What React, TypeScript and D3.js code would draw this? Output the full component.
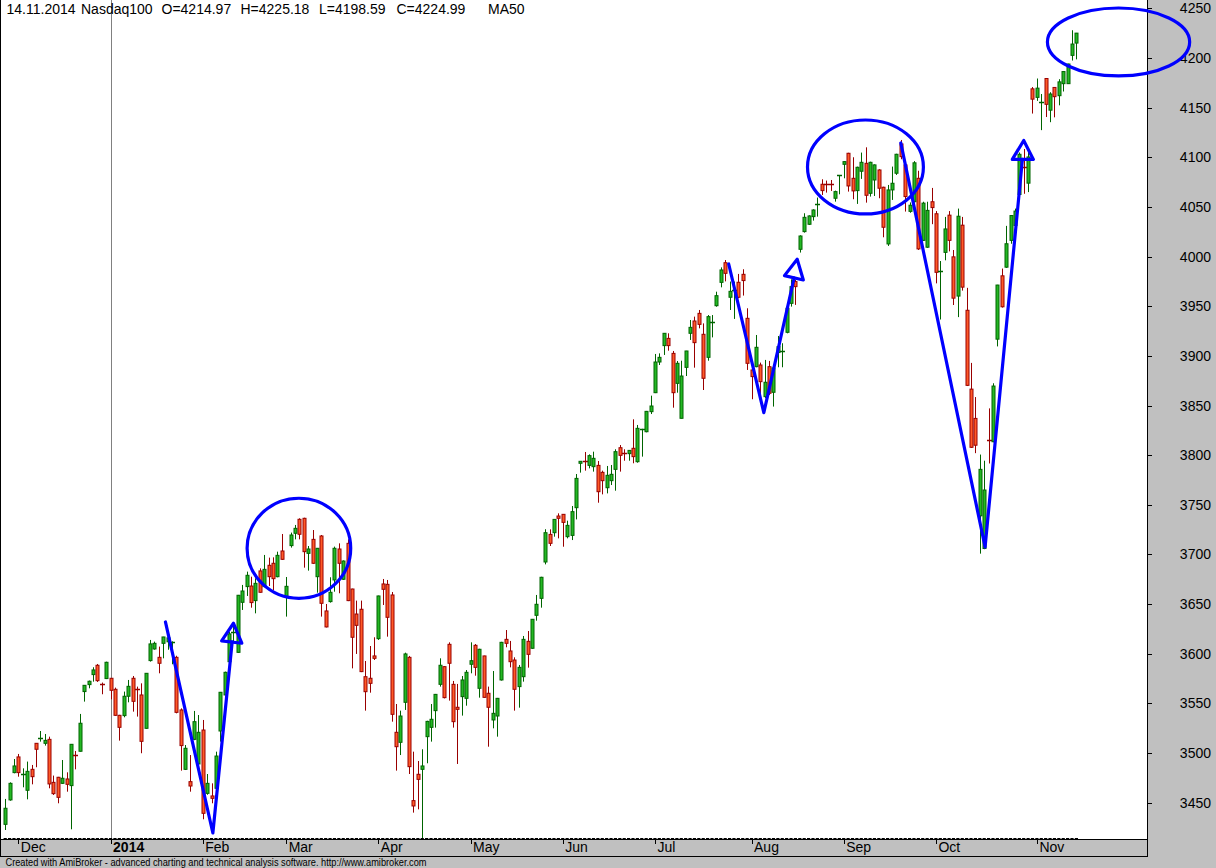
import React from 'react';
import * as d3 from 'd3';

// ---- Data (Nasdaq100 daily, 26 Nov 2013 .. 14 Nov 2014) ----
const OPEN = [
3428.2,3452.8,3480.3,3496.1,3478.3,3462.5,3483.6,3509.8,3514.5,3509.8,
3513.8,3470.5,3475.6,3469.5,3473.9,3467.2,3499.1,3501.8,3561.9,3568.9,
3579.0,3588.4,3570.6,3575.0,3575.3,3564.2,3538.0,3537.7,3557.2,3575.3,
3565.2,3558.5,3524.9,3593.1,3604.8,3596.4,3610.5,3612.0,3611.5,3596.4,
3543.4,3483.6,3471.2,3513.8,3489.0,3523.2,3459.4,3456.8,3464.5,3522.2,
3558.5,3592.0,3621.0,3601.4,3651.8,3667.6,3668.2,3653.5,3683.4,3667.6,
3689.1,3691.1,3677.6,3703.5,3656.8,3708.9,3721.3,3735.4,3736.4,3701.1,
3715.2,3677.6,3718.6,3643.1,3652.5,3674.3,3705.5,3675.0,3711.2,3665.2,
3640.0,3644.8,3576.9,3575.3,3597.8,3615.2,3670.3,3669.9,3659.2,3520.9,
3510.8,3551.1,3596.4,3452.1,3478.6,3483.6,3516.5,3525.9,3542.7,3569.2,
3587.0,3609.5,3569.2,3546.1,3556.8,3555.1,3589.4,3608.5,3565.2,3597.8,
3560.2,3533.3,3537.3,3573.6,3614.5,3602.8,3593.7,3566.9,3576.9,3612.5,
3605.5,3638.7,3655.8,3692.4,3720.2,3721.9,3738.7,3740.4,3717.9,3719.2,
3747.1,3791.8,3794.8,3789.7,3788.4,3789.7,3782.7,3767.2,3774.3,3785.7,
3807.5,3803.2,3801.5,3806.9,3793.4,3825.7,3823.6,3843.8,3862.9,3893.8,
3910.3,3917.6,3902.5,3872.3,3837.1,3888.4,3922.7,3935.1,3942.8,3921.7,
3898.5,3933.1,3950.5,3974.0,3993.8,3959.0,3966.0,3974.1,3982.1,3937.8,
3885.8,3889.1,3890.8,3858.9,3889.1,3863.3,3903.3,3903.9,3923.7,3952.9,
3974.8,4007.3,4025.1,4032.5,4040.2,4052.0,4072.8,4073.5,4073.5,4058.7,
4081.2,4092.9,4104.0,4078.8,4066.4,4085.9,4093.9,4063.7,4077.1,4087.2,
4069.8,4012.7,4067.1,4083.9,4113.4,4092.3,4045.5,4055.2,4078.8,4016.3,
4009.4,4055.2,4043.1,3984.4,4004.2,4041.7,3999.7,3960.2,4031.6,3945.9,
3866.5,3837.0,3738.9,3706.0,3815.5,3813.5,3916.8,3980.6,3989.3,4016.3,
4031.3,4062.5,4090.9,4073.9,4168.9,4160.3,4155.4,4179.3,4147.4,4170.3,
4162.0,4174.1,4174.1,4202.6,4214.97
];
const HIGH = [
3453.8,3470.5,3494.0,3499.1,3484.6,3491.4,3488.0,3510.0,3522.2,3519.2,
3516.5,3477.3,3476.0,3493.0,3480.6,3509.0,3502.1,3539.4,3568.5,3573.0,
3586.4,3589.7,3571.0,3592.0,3575.5,3565.9,3538.5,3561.9,3573.6,3577.6,
3566.9,3570.2,3580.5,3613.9,3612.2,3607.2,3617.0,3620.0,3612.5,3598.0,
3545.0,3508.1,3498.0,3542.4,3538.3,3533.3,3478.9,3469.5,3501.4,3561.5,
3582.0,3622.0,3630.0,3659.2,3669.3,3682.7,3677.6,3676.0,3686.0,3699.5,
3696.8,3697.1,3702.8,3720.6,3677.3,3722.0,3729.7,3736.4,3737.0,3708.5,
3724.6,3706.5,3719.6,3650.1,3677.0,3707.9,3711.2,3694.0,3715.2,3665.5,
3653.5,3653.5,3592.7,3607.8,3616.6,3658.5,3675.3,3674.3,3662.2,3549.4,
3542.7,3601.1,3597.8,3501.4,3492.0,3503.8,3532.5,3549.4,3559.5,3595.4,
3587.5,3611.5,3572.6,3569.6,3577.6,3583.6,3611.5,3609.8,3605.0,3598.0,
3566.9,3582.6,3555.5,3612.0,3623.9,3612.9,3596.4,3588.7,3617.9,3622.9,
3635.0,3659.2,3677.5,3725.4,3725.3,3735.5,3741.4,3740.5,3734.0,3748.8,
3781.0,3794.0,3803.2,3800.8,3803.5,3794.1,3784.4,3789.1,3790.1,3805.9,
3810.2,3805.9,3805.0,3836.1,3830.4,3826.5,3844.5,3859.9,3901.9,3902.5,
3923.0,3922.7,3904.9,3894.8,3895.1,3905.0,3936.1,3939.5,3946.2,3932.7,
3941.1,3941.1,3964.6,3989.1,3996.5,3974.8,3974.8,3982.5,3987.2,3947.9,
3892.5,3921.0,3893.2,3895.9,3894.9,3888.5,3920.0,3912.7,3949.6,3977.1,
3976.4,4021.4,4043.6,4041.5,4047.6,4059.4,4077.8,4076.5,4077.1,4066.4,
4082.0,4096.0,4104.5,4100.0,4090.5,4104.7,4110.0,4095.5,4092.8,4087.9,
4070.3,4072.1,4090.6,4103.5,4117.4,4093.0,4054.5,4096.1,4086.4,4055.2,
4055.2,4069.1,4045.8,3995.5,4039.9,4045.8,4006.6,4048.3,4039.9,3968.5,
3892.9,3858.5,3800.6,3794.4,3847.1,3872.4,3971.5,3987.9,4030.9,4041.5,
4048.3,4104.8,4108.3,4108.3,4170.7,4179.3,4163.7,4179.5,4165.5,4170.5,
4178.6,4186.5,4194.2,4227.9,4225.18
];
const LOW = [
3422.5,3452.0,3479.6,3476.2,3465.5,3453.4,3468.5,3485.7,3511.5,3507.5,
3464.5,3457.8,3449.4,3469.0,3461.1,3423.2,3483.6,3501.5,3551.8,3565.2,
3571.9,3571.6,3559.2,3574.5,3554.1,3537.5,3512.5,3536.0,3551.1,3541.7,
3536.7,3499.8,3524.5,3592.1,3604.1,3580.3,3595.4,3604.0,3589.4,3540.0,
3482.3,3482.9,3461.1,3513.0,3488.0,3433.3,3458.0,3449.4,3464.0,3511.5,
3558.0,3588.0,3612.0,3601.0,3644.1,3658.2,3646.4,3640.7,3661.5,3667.0,
3668.2,3664.2,3677.0,3694.5,3637.4,3706.9,3715.2,3715.2,3686.7,3683.7,
3690.5,3661.5,3637.4,3626.5,3651.5,3662.5,3660.9,3674.3,3653.0,3585.3,
3599.8,3581.5,3542.7,3560.8,3593.7,3613.9,3649.1,3617.2,3531.6,3482.3,
3498.0,3543.4,3478.9,3440.0,3443.3,3414.1,3489.7,3511.5,3525.6,3566.9,
3555.0,3552.8,3525.6,3489.0,3537.7,3547.7,3580.3,3577.9,3555.8,3555.8,
3506.4,3524.9,3516.5,3573.0,3606.5,3586.3,3542.7,3545.7,3571.9,3586.0,
3605.0,3633.3,3646.4,3690.0,3708.5,3717.9,3716.2,3707.8,3716.2,3714.5,
3735.3,3782.4,3784.4,3786.7,3783.4,3752.1,3760.5,3761.5,3769.9,3764.2,
3783.4,3794.4,3794.4,3791.8,3792.4,3798.5,3823.0,3841.4,3862.5,3890.8,
3900.9,3905.2,3847.8,3862.9,3837.0,3879.7,3916.0,3888.1,3927.7,3865.6,
3895.1,3918.6,3949.5,3969.0,3975.0,3946.2,3937.2,3958.0,3960.7,3885.8,
3856.3,3888.5,3858.9,3857.3,3860.6,3848.9,3888.5,3888.5,3922.7,3949.6,
3951.3,4004.0,4024.1,4031.8,4036.2,4040.2,4062.0,4064.4,4066.1,4055.3,
4062.7,4078.8,4065.4,4057.7,4053.0,4078.2,4054.3,4060.4,4061.0,4058.7,
4019.4,4010.7,4057.0,4082.2,4098.0,4045.3,4044.1,4054.5,4006.6,4015.6,
4008.7,4032.6,3973.0,3936.6,3996.2,4005.2,3951.2,3939.0,3965.7,3869.6,
3807.2,3802.0,3700.8,3705.3,3791.6,3813.0,3909.5,3948.6,3988.6,4012.9,
4020.5,4061.4,4063.2,4064.9,4144.0,4156.8,4127.3,4140.5,4135.3,4140.2,
4152.3,4166.2,4173.8,4197.4,4198.59
];
const CLOSE = [
3444.4,3469.5,3487.0,3480.3,3478.9,3481.6,3476.2,3503.8,3515.5,3512.8,
3468.9,3459.1,3455.4,3474.6,3468.5,3508.8,3498.1,3530.0,3568.2,3572.3,
3583.7,3572.9,3569.6,3591.4,3563.2,3538.0,3525.9,3557.2,3567.2,3552.1,
3564.5,3511.8,3580.3,3609.9,3610.5,3590.4,3616.9,3616.0,3612.2,3541.0,
3507.5,3504.8,3466.8,3531.6,3520.9,3439.3,3469.5,3454.4,3497.0,3561.2,
3581.3,3620.0,3622.0,3658.9,3663.2,3679.0,3651.5,3670.9,3661.9,3685.0,
3677.6,3675.6,3699.1,3695.1,3667.9,3719.6,3726.3,3720.3,3702.8,3705.5,
3691.1,3706.2,3650.8,3627.0,3661.9,3706.2,3691.1,3693.4,3653.5,3616.6,
3628.6,3582.0,3561.8,3570.2,3595.4,3658.2,3664.9,3636.7,3539.0,3506.4,
3537.3,3599.8,3486.3,3446.7,3473.5,3487.0,3531.9,3534.0,3559.1,3588.4,
3555.8,3590.4,3531.6,3544.0,3573.6,3581.3,3593.0,3586.3,3604.5,3556.1,
3546.1,3540.0,3555.1,3611.5,3610.5,3592.0,3564.2,3586.3,3614.5,3599.4,
3634.7,3649.8,3677.0,3721.9,3711.2,3735.3,3736.4,3732.3,3729.3,3743.1,
3776.6,3793.8,3794.1,3799.5,3796.8,3763.2,3774.3,3779.7,3780.7,3803.5,
3799.8,3802.5,3804.8,3798.5,3827.0,3826.3,3844.1,3849.5,3893.8,3898.5,
3922.7,3910.3,3862.9,3892.5,3879.7,3904.9,3928.7,3913.3,3931.7,3877.4,
3939.5,3933.8,3960.6,3986.5,3983.1,3965.0,3966.7,3959.0,3975.8,3892.5,
3879.1,3908.6,3874.0,3873.4,3862.3,3887.8,3909.3,3904.6,3947.9,3969.7,
3969.7,4020.7,4039.5,4040.9,4046.9,4052.6,4066.4,4072.8,4072.8,4065.4,
4081.8,4095.6,4071.1,4066.1,4089.9,4094.9,4061.7,4094.9,4092.3,4068.8,
4029.5,4067.1,4073.8,4103.0,4100.6,4060.4,4051.7,4094.4,4007.7,4053.8,
4046.5,4049.3,3984.1,3985.1,4027.8,4016.3,3958.1,4040.6,3969.2,3870.3,
3807.9,3810.0,3785.7,3764.9,3814.9,3869.6,3971.3,3949.4,4012.9,4041.3,
4045.8,4103.0,4090.2,4100.3,4158.5,4169.6,4156.1,4153.3,4163.7,4161.0,
4175.9,4186.3,4193.9,4214.0,4224.99
];

const MONTH_LABELS = ['Dec', '2014', 'Feb', 'Mar', 'Apr', 'May', 'Jun', 'Jul', 'Aug', 'Sep', 'Oct', 'Nov'];
const MONTH_BARS = [3, 24, 45, 64, 85, 106, 127, 148, 170, 191, 212, 235];
const PRICE_TICKS = [3450, 3500, 3550, 3600, 3650, 3700, 3750, 3800, 3850, 3900, 3950, 4000, 4050, 4100, 4150, 4200, 4250];
const TITLE_PARTS = ['14.11.2014', 'Nasdaq100', 'O=4214.97', 'H=4225.18', 'L=4198.59', 'C=4224.99', 'MA50'];
const TITLE_X = [6.5, 81, 161.5, 240.5, 319, 396.5, 488];

// hand-drawn annotations in (bar index, price) units
const V_LINES = [
  [[36.5, 3632], [47.3, 3419.5], [51.7, 3612]],
  [[164.8, 3992.5], [172.8, 3842.8], [179.7, 3978.4]],
  [[204.0, 4114.4], [223.2, 3707.5], [231.7, 4097.8]],
];
const ARROW_HEADS = [
  [[49.3, 3612.9], [52.0, 3630.7], [53.9, 3610.6]],
  [[177.5, 3980.8], [180.4, 3997.3], [181.8, 3976.4]],
  [[229.4, 4097.8], [232.0, 4116.9], [234.2, 4097.8]],
];
const ELLIPSES = [
  { i: 66.9, p: 3706.2, di: 11.8, dp: 50.4 },
  { i: 195.95, p: 4090.2, di: 13.2, dp: 47.3 },
  { i: 253.6, p: 4216.1, di: 16.2, dp: 34.2 },
];

const FONT = '"Liberation Sans", Arial, sans-serif';
const GRAY = '#c0c0c0';
const UP_FILL = '#24b824';
const UP_LINE = '#006400';
const DN_FILL = '#ff5a28';
const DN_LINE = '#990000';
const BLUE = '#0000ff';

const PLOT_R = 1147;
const PLOT_B = 839;
const BAND_B = 856;

export default function App() {
  const n = OPEN.length;
  const x = d3.scaleLinear().domain([0, n - 1]).range([5.2, 1076.4]);
  const y = d3.scaleLinear().domain([3450, 4250]).range([802.7, 8.3]);
  const line = d3.line<number[]>().x((d) => x(d[0])).y((d) => y(d[1]));

  const candles = d3.range(n).map((i) => {
    const o = OPEN[i], c = CLOSE[i], h = HIGH[i], l = LOW[i];
    const up = c >= o;
    const cx = Math.round(x(i)) + 0.5;
    const top = y(Math.max(o, c));
    const bot = y(Math.min(o, c));
    const stroke = up ? UP_LINE : DN_LINE;
    const fill = up ? UP_FILL : DN_FILL;
    const bodyH = bot - top;
    return (
      <g key={i}>
        <line x1={cx} x2={cx} y1={y(h)} y2={y(l)} stroke={stroke} strokeWidth={1} />
        {bodyH < 1.5 ? (
          <line x1={cx - 2.5} x2={cx + 2.5} y1={Math.round(y(c)) + 0.5} y2={Math.round(y(c)) + 0.5} stroke={stroke} strokeWidth={1.5} />
        ) : (
          <rect x={cx - 1.5} y={top} width={3} height={bodyH} fill={fill} stroke={stroke} strokeWidth={1} />
        )}
      </g>
    );
  });

  const barTicks = d3.range(n).map((i) => (
    <line key={'bt' + i} x1={x(i) - 1.6} x2={x(i) + 1.6} y1={PLOT_B - 0.5} y2={PLOT_B - 0.5} stroke="#000" strokeWidth={1} />
  ));

  return (
    <svg width={1216} height={868} style={{ position: 'fixed', left: 0, top: 0, display: 'block' }} fontFamily={FONT}>
      <rect x={0} y={0} width={1216} height={868} fill={GRAY} />
      <rect x={0} y={0} width={PLOT_R} height={PLOT_B} fill="#fff" />
      {/* year separator */}
      <line x1={Math.round(x(MONTH_BARS[1])) + 0.5} x2={Math.round(x(MONTH_BARS[1])) + 0.5} y1={0} y2={PLOT_B} stroke="#808080" strokeWidth={1} />
      {candles}
      {/* frame */}
      <line x1={0.5} x2={0.5} y1={0} y2={BAND_B} stroke="#000" />
      <line x1={PLOT_R + 0.5} x2={PLOT_R + 0.5} y1={0} y2={BAND_B + 0.5} stroke="#000" />
      <line x1={0} x2={PLOT_R + 1} y1={PLOT_B + 0.5} y2={PLOT_B + 0.5} stroke="#000" />
      <line x1={0} x2={PLOT_R + 1} y1={BAND_B + 0.5} y2={BAND_B + 0.5} stroke="#000" />
      {barTicks}
      {/* month ticks & labels */}
      {MONTH_BARS.map((b, k) => (
        <g key={'m' + k}>
          <line x1={Math.round(x(b)) + 0.5} x2={Math.round(x(b)) + 0.5} y1={PLOT_B} y2={PLOT_B + 5} stroke="#000" />
          <text x={x(b) + 2.5} y={851.5} fontSize={14} fontWeight={MONTH_LABELS[k] === '2014' ? 'bold' : 'normal'} fill="#000">
            {MONTH_LABELS[k]}
          </text>
        </g>
      ))}
      {/* price axis */}
      {PRICE_TICKS.map((p) => (
        <g key={'p' + p}>
          <line x1={PLOT_R} x2={PLOT_R + 5} y1={Math.round(y(p)) + 0.5} y2={Math.round(y(p)) + 0.5} stroke="#000" />
          <text x={1211} y={y(p) + 5} fontSize={14} textAnchor="end" fill="#000">{p}</text>
        </g>
      ))}
      {/* title */}
      {TITLE_PARTS.map((t, k) => (
        <text key={'t' + k} x={TITLE_X[k]} y={13.5} fontSize={14} fill="#000">{t}</text>
      ))}
      {/* annotations */}
      <g fill="none" stroke={BLUE} strokeWidth={3.2} strokeLinejoin="round" strokeLinecap="round">
        {V_LINES.map((pts, k) => (
          <path key={'v' + k} d={line(pts) || ''} />
        ))}
        {ARROW_HEADS.map((pts, k) => (
          <path key={'a' + k} d={(line(pts) || '') + 'Z'} />
        ))}
        {ELLIPSES.map((e, k) => (
          <ellipse key={'e' + k} cx={x(e.i)} cy={y(e.p)} rx={x(e.i + e.di) - x(e.i)} ry={y(e.p - e.dp) - y(e.p)} />
        ))}
      </g>
      <text x={5.5} y={865.5} fontSize={10} fill="#000" textLength={421} lengthAdjust="spacingAndGlyphs">
        Created with AmiBroker - advanced charting and technical analysis software. http://www.amibroker.com
      </text>
    </svg>
  );
}
